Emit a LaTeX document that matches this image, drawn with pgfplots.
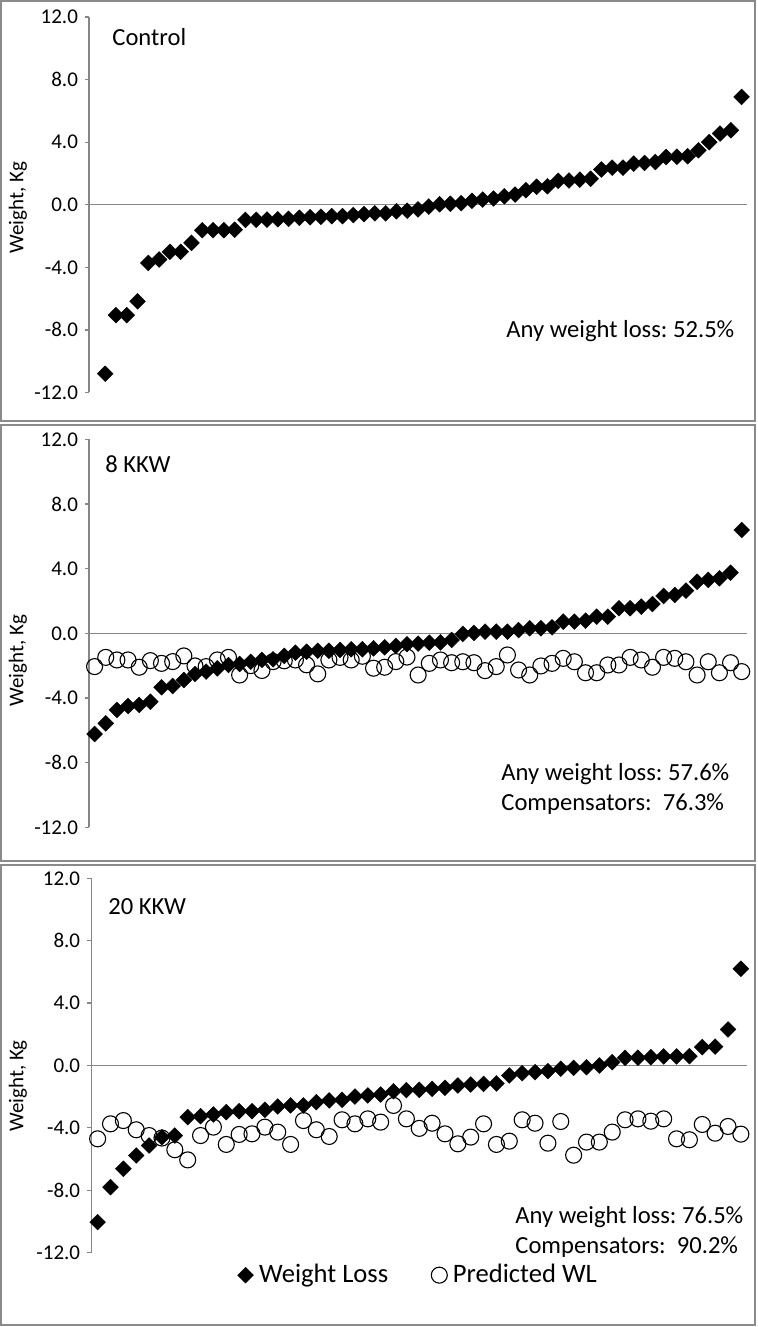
\documentclass[border=0pt]{standalone}
\usepackage{pgfplots}
\usepackage{pgfplotstable}
\pgfplotsset{compat=1.18}
\usepackage{fontspec}
\setmainfont{Carlito}
\frenchspacing

\definecolor{axgray}{HTML}{868686}
\definecolor{boxgray}{HTML}{8A8A8A}

% Control group: observed weight change, sorted
\pgfplotstableread{
x wl
2 -10.80
3 -7.06
4 -7.06
5 -6.17
6 -3.72
7 -3.50
8 -3.01
9 -3.01
10 -2.44
11 -1.63
12 -1.63
13 -1.63
14 -1.60
15 -0.97
16 -0.96
17 -0.95
18 -0.93
19 -0.90
20 -0.83
21 -0.80
22 -0.77
23 -0.73
24 -0.73
25 -0.66
26 -0.60
27 -0.55
28 -0.55
29 -0.42
30 -0.38
31 -0.30
32 -0.12
33 0.03
34 0.06
35 0.10
36 0.25
37 0.33
38 0.40
39 0.54
40 0.65
41 0.93
42 1.15
43 1.18
44 1.53
45 1.55
46 1.60
47 1.66
48 2.25
49 2.37
50 2.37
51 2.63
52 2.67
53 2.73
54 3.05
55 3.07
56 3.10
57 3.48
58 4.00
59 4.55
60 4.76
61 6.89
}\control

% 8 KKW group
\pgfplotstableread{
x wl pwl
1 -6.23 -2.06
2 -5.57 -1.49
3 -4.74 -1.65
4 -4.50 -1.65
5 -4.43 -2.10
6 -4.23 -1.69
7 -3.34 -1.86
8 -3.26 -1.75
9 -2.89 -1.40
10 -2.52 -2.02
11 -2.37 -2.06
12 -2.17 -1.65
13 -1.96 -1.49
14 -1.90 -2.58
15 -1.76 -2.00
16 -1.65 -2.30
17 -1.61 -1.75
18 -1.40 -1.70
19 -1.20 -1.65
20 -1.14 -1.95
21 -1.08 -2.51
22 -1.08 -1.65
23 -1.03 -1.49
24 -0.99 -1.65
25 -0.99 -1.42
26 -0.93 -2.16
27 -0.87 -2.10
28 -0.78 -1.75
29 -0.68 -1.47
30 -0.64 -2.58
31 -0.58 -1.86
32 -0.56 -1.65
33 -0.41 -1.82
34 -0.04 -1.76
35 0.02 -1.82
36 0.10 -2.31
37 0.10 -2.06
38 0.10 -1.34
39 0.20 -2.27
40 0.31 -2.58
41 0.31 -2.02
42 0.37 -1.86
43 0.72 -1.55
44 0.72 -1.76
45 0.78 -2.44
46 1.03 -2.44
47 1.03 -1.96
48 1.55 -1.96
49 1.55 -1.49
50 1.65 -1.65
51 1.81 -2.10
52 2.31 -1.49
53 2.37 -1.55
54 2.64 -1.76
55 3.19 -2.58
56 3.30 -1.76
57 3.40 -2.44
58 3.75 -1.82
59 6.39 -2.37
}\kkweight

% 20 KKW group
\pgfplotstableread{
x wl pwl
1 -10.04 -4.70
2 -7.80 -3.74
3 -6.62 -3.53
4 -5.77 -4.12
5 -5.13 -4.49
6 -4.60 -4.65
7 -4.49 -5.40
8 -3.31 -6.05
9 -3.25 -4.49
10 -3.14 -3.95
11 -2.99 -5.06
12 -2.93 -4.42
13 -2.93 -4.38
14 -2.84 -3.95
15 -2.63 -4.27
16 -2.56 -5.06
17 -2.56 -3.53
18 -2.35 -4.12
19 -2.24 -4.55
20 -2.20 -3.48
21 -1.99 -3.74
22 -1.92 -3.42
23 -1.86 -3.63
24 -1.65 -2.56
25 -1.58 -3.42
26 -1.56 -4.03
27 -1.50 -3.70
28 -1.43 -4.38
29 -1.28 -5.02
30 -1.22 -4.59
31 -1.18 -3.74
32 -1.15 -5.06
33 -0.64 -4.85
34 -0.49 -3.48
35 -0.43 -3.70
36 -0.36 -4.98
37 -0.21 -3.59
38 -0.15 -5.75
39 -0.11 -4.91
40 0.00 -4.91
41 0.21 -4.27
42 0.49 -3.48
43 0.50 -3.42
44 0.53 -3.57
45 0.58 -3.42
46 0.58 -4.70
47 0.60 -4.76
48 1.18 -3.78
49 1.21 -4.34
50 2.31 -3.91
51 6.20 -4.40
}\kkwtwenty

\pgfplotsset{
  panel/.style={
    scale only axis,
    anchor=south west,
    ymin=-12, ymax=12,
    ytick={-12,-8,...,12},
    axis x line=none,
    axis y line=left,
    axis line style={-, axgray, line width=0.6pt},
    tick align=outside,
    major tick length=2pt,
    ytick style={axgray, line width=0.6pt},
    yticklabel style={font=\fontsize{10.5}{12}\selectfont, text=black,
      /pgf/number format/.cd, fixed, fixed zerofill, precision=1,
      assume math mode=true},
    clip=false,
  },
  wl/.style={only marks, mark=square*, mark size=2.8pt,
    mark options={rotate=45, fill=black, draw=black, line width=0.2pt}},
  pwl/.style={only marks, mark=o, mark size=4pt,
    mark options={draw=black, line width=0.55pt, fill=none}},
}

\begin{document}
\begin{tikzpicture}[x=1pt,y=1pt]
\useasboundingbox (0,0) rectangle (378.5,663.5);
\draw[boxgray, line width=0.9pt] (0.5,453) rectangle (377.5,663);
\draw[boxgray, line width=0.9pt] (0.5,233) rectangle (377.5,451);
\draw[boxgray, line width=0.9pt] (0.5,1) rectangle (377.5,231);

% Control
\begin{axis}[panel, at={(44.5pt,467.25pt)}, width=329pt, height=187.75pt,
  xmin=0.5, xmax=61.5]
  \draw[axgray, line width=0.6pt] (rel axis cs:0,0.5) -- (rel axis cs:1,0.5);
  \addplot[wl] table[x=x, y=wl] {\control};
\end{axis}

% 8 KKW
\begin{axis}[panel, at={(44.5pt,249.85pt)}, width=329.15pt, height=194pt,
  xmin=0.5, xmax=59.5]
  \draw[axgray, line width=0.6pt] (rel axis cs:0,0.5) -- (rel axis cs:1,0.5);
  \addplot[wl] table[x=x, y=wl] {\kkweight};
  \addplot[pwl] table[x=x, y=pwl] {\kkweight};
\end{axis}

% 20 KKW
\begin{axis}[panel, at={(45.6pt,37.15pt)}, width=328.05pt, height=187.2pt,
  xmin=0.5, xmax=51.5,
  legend columns=2,
  legend style={at={(0.5,-0.06)}, anchor=center, draw=none, fill=none,
    font=\fontsize{13.3}{15}\selectfont, inner sep=0pt,
    /tikz/every odd column/.append style={column sep=0.8pt},
    /tikz/every even column/.append style={column sep=19.5pt}},
  legend image code/.code={\draw[#1] plot coordinates {(0pt,0pt)};}]
  \draw[axgray, line width=0.6pt] (rel axis cs:0,0.5) -- (rel axis cs:1,0.5);
  \addplot[wl] table[x=x, y=wl] {\kkwtwenty};
  \addlegendentry{Weight Loss}
  \addplot[pwl] table[x=x, y=pwl] {\kkwtwenty};
  \addlegendentry{Predicted WL}
\end{axis}

% axis titles
\foreach \yc in {559.5,333,120.5}
  \node[rotate=90, font=\fontsize{10.5}{12}\selectfont] at (9,\yc) {Weight, Kg};

% panel labels and notes
\begin{scope}[every node/.style={anchor=base west, inner sep=0pt,
    font=\fontsize{12.3}{14}\selectfont}]
  \node at (56,640.5) {Control};
  \node at (52.5,427) {8 KKW};
  \node at (54,206) {20 KKW};
  \node at (253,494.85) {Any weight loss: 52.5\%};
  \node at (250.5,273.15) {Any weight loss: 57.6\%};
  \node at (250.5,258.15) {Compensators:~~76.3\%};
  \node at (257.5,51.5) {Any weight loss: 76.5\%};
  \node at (257.5,36.5) {Compensators:~~90.2\%};
\end{scope}
\end{tikzpicture}
\end{document}
